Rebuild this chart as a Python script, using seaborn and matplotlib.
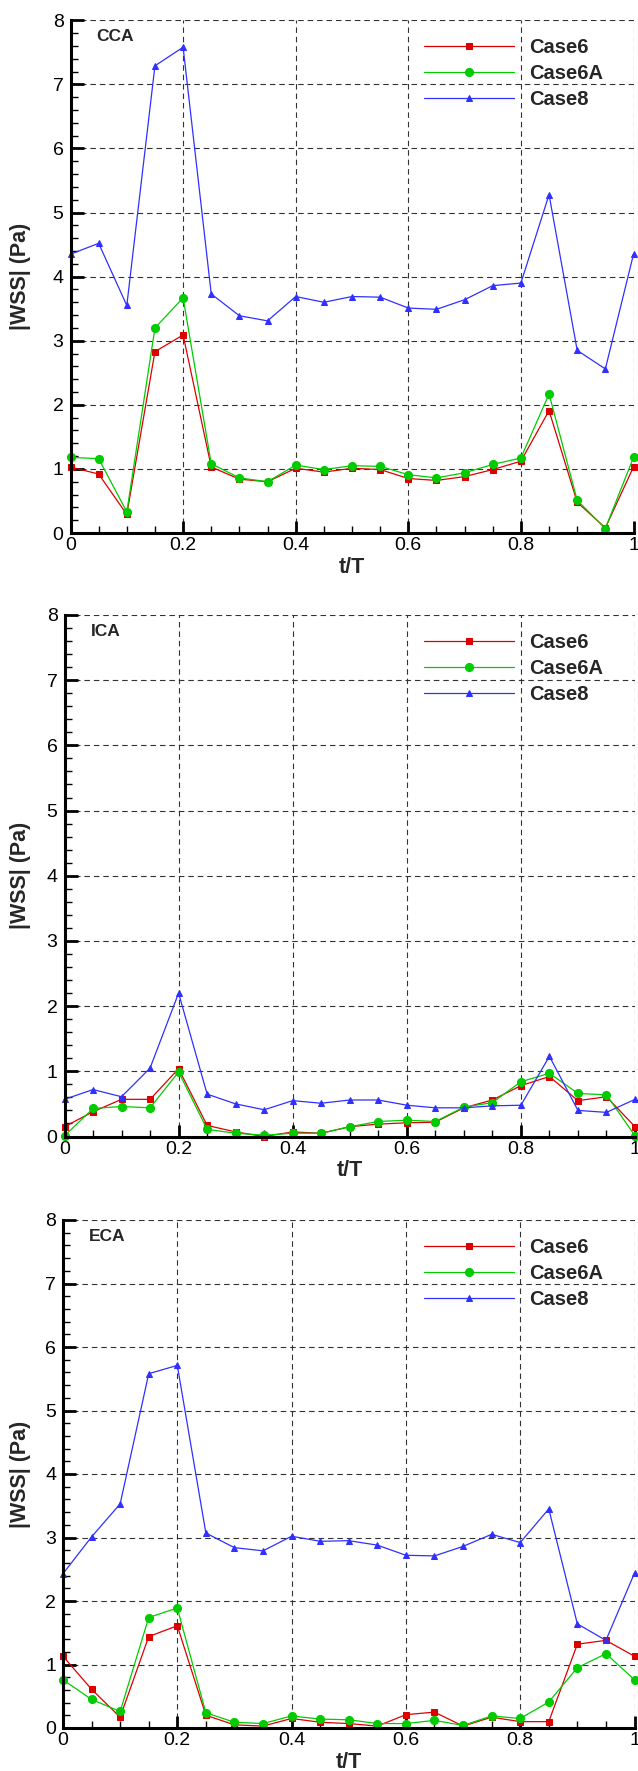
import numpy as np
import pandas as pd
import matplotlib
matplotlib.use("Agg")
import matplotlib.pyplot as plt
from matplotlib.ticker import MultipleLocator
import seaborn as sns

# ---------------- data ----------------
t = [0.0, 0.05, 0.10, 0.15, 0.20, 0.25, 0.30, 0.35, 0.40, 0.45, 0.50,
     0.55, 0.60, 0.65, 0.70, 0.75, 0.80, 0.85, 0.90, 0.95, 1.0]

cca_case6 = [1.03, 0.92, 0.29, 2.83, 3.09, 1.03, 0.84, 0.80, 1.01, 0.95, 1.01,
             0.99, 0.85, 0.82, 0.88, 0.99, 1.12, 1.91, 0.48, 0.08, 1.03]
cca_case6a = [1.18, 1.16, 0.33, 3.20, 3.67, 1.08, 0.86, 0.80, 1.06, 0.99, 1.05,
              1.04, 0.91, 0.86, 0.94, 1.07, 1.17, 2.17, 0.51, 0.07, 1.18]
cca_case8 = [4.35, 4.52, 3.55, 7.29, 7.58, 3.73, 3.39, 3.31, 3.69, 3.60, 3.69,
             3.68, 3.51, 3.49, 3.64, 3.86, 3.90, 5.28, 2.85, 2.56, 4.35]

ica_case6 = [0.15, 0.38, 0.57, 0.57, 1.04, 0.17, 0.07, 0.00, 0.07, 0.05, 0.15,
             0.19, 0.21, 0.22, 0.44, 0.56, 0.78, 0.92, 0.55, 0.61, 0.15]
ica_case6a = [0.01, 0.43, 0.46, 0.44, 0.99, 0.11, 0.05, 0.02, 0.05, 0.05, 0.15,
              0.23, 0.25, 0.23, 0.45, 0.52, 0.84, 0.97, 0.66, 0.64, 0.01]
ica_case8 = [0.57, 0.72, 0.61, 1.05, 2.20, 0.65, 0.50, 0.41, 0.55, 0.51, 0.56,
             0.56, 0.48, 0.44, 0.44, 0.47, 0.48, 1.23, 0.40, 0.37, 0.57]

eca_case6 = [1.13, 0.61, 0.17, 1.44, 1.61, 0.20, 0.05, 0.03, 0.15, 0.09, 0.07,
             0.03, 0.21, 0.25, 0.03, 0.17, 0.10, 0.10, 1.32, 1.38, 1.13]
eca_case6a = [0.76, 0.45, 0.26, 1.74, 1.89, 0.24, 0.09, 0.07, 0.19, 0.14, 0.13,
              0.07, 0.07, 0.12, 0.04, 0.19, 0.15, 0.41, 0.95, 1.17, 0.76]
eca_case8 = [2.43, 3.01, 3.53, 5.58, 5.71, 3.07, 2.84, 2.79, 3.02, 2.94, 2.95,
             2.88, 2.72, 2.71, 2.86, 3.05, 2.92, 3.45, 1.64, 1.38, 2.44]

panel_names = ["CCA", "ICA", "ECA"]
series_names = ["Case6", "Case6A", "Case8"]
x_label = "t/T"
y_label = "|WSS| (Pa)"

panels = {
    "CCA": [cca_case6, cca_case6a, cca_case8],
    "ICA": [ica_case6, ica_case6a, ica_case8],
    "ECA": [eca_case6, eca_case6a, eca_case8],
}

# ---------------- style ----------------
sns.set_style("ticks")
plt.rcParams["font.family"] = ["Liberation Sans", "DejaVu Sans"]

colors = ["#dd0000", "#00cc00", "#3030ff"]
markers = ["s", "o", "^"]
msizes = [4.8, 5.8, 4.2]

W, H = 638, 1771
fig = plt.figure(figsize=(W / 100, H / 100), dpi=100)

# axes boxes in pixels: left, right, top, bottom
boxes = [
    (70.5, 633.5, 20.3, 533.0),
    (64.5, 635.0, 615.0, 1136.5),
    (63.0, 634.5, 1220.0, 1728.0),
]

LEG_FS = 14.5
for name, (l, r, tp, b) in zip(panel_names, boxes):
    ax = fig.add_axes([l / W, (H - b) / H, (r - l) / W, (b - tp) / H])
    vals = panels[name]
    for s_name, v, c, m, ms in zip(series_names, vals, colors, markers, msizes):
        df = pd.DataFrame({"t": t, "v": v})
        sns.lineplot(data=df, x="t", y="v", ax=ax, color=c, marker=m,
                     markersize=ms, markeredgecolor=c, markerfacecolor=c,
                     linewidth=0.9, label=s_name, clip_on=False, zorder=5)

    ax.set_xlim(0, 1)
    ax.set_ylim(0, 8)
    ax.xaxis.set_major_locator(MultipleLocator(0.2))
    ax.xaxis.set_minor_locator(MultipleLocator(0.05))
    ax.yaxis.set_major_locator(MultipleLocator(1))
    ax.yaxis.set_minor_locator(MultipleLocator(0.2))
    ax.set_xticks([0, 0.2, 0.4, 0.6, 0.8, 1.0])
    ax.set_xticklabels(["0", "0.2", "0.4", "0.6", "0.8", "1"])

    ax.grid(True, which="major", color="#333333", linestyle=(0, (5, 3.5)),
            linewidth=0.8)
    ax.set_axisbelow(True)

    for sp in ["top", "right"]:
        ax.spines[sp].set_visible(False)
    for sp in ["left", "bottom"]:
        ax.spines[sp].set_linewidth(2.2)
        ax.spines[sp].set_color("black")
        ax.spines[sp].set_zorder(6)

    ax.tick_params(which="major", direction="in", length=9, width=2.0,
                   labelsize=14, colors="black")
    ax.tick_params(which="minor", direction="in", length=5, width=1.0,
                   colors="black")
    ax.tick_params(axis="y", which="major", pad=5)
    ax.tick_params(axis="x", which="major", pad=3)

    ax.set_xlabel(x_label, fontsize=15.5, fontweight="bold")
    ax.set_ylabel(y_label, fontsize=15.5, fontweight="bold")
    width_px = r - l
    height_px = b - tp
    ax.yaxis.set_label_coords((31 - l) / width_px, 0.5)
    ax.xaxis.set_label_coords(0.5, -24 / height_px)

    ax.text(26 / width_px, 1 - 16.5 / height_px, name, transform=ax.transAxes,
            fontsize=12.5, fontweight="bold", ha="left", va="center")

    leg = ax.legend(loc="upper left",
                    bbox_to_anchor=((424 - l) / width_px, 1 - 17.8 / height_px),
                    frameon=False, handlelength=4.48,
                    handletextpad=0.75, labelspacing=0.35, borderpad=0,
                    borderaxespad=0, prop={"weight": "bold", "size": LEG_FS})

fig.savefig("out.png", dpi=100)
